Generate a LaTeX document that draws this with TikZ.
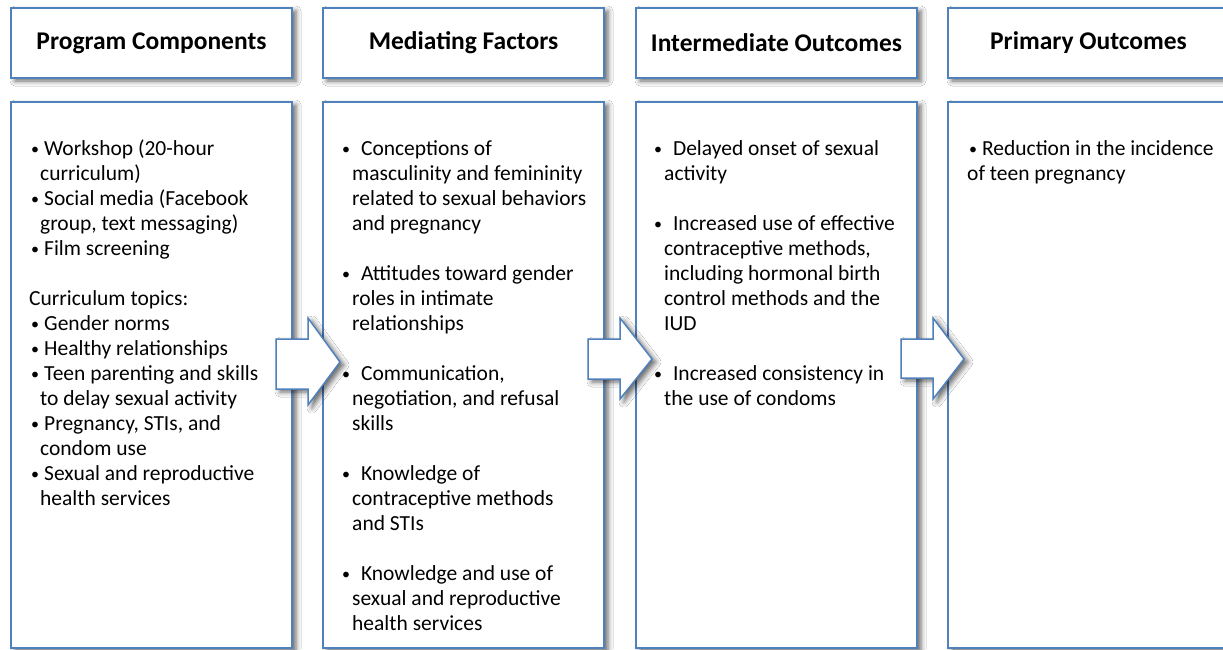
\documentclass[tikz,border=0pt]{standalone}
\usepackage{fontspec}
\setmainfont{Carlito}
\usetikzlibrary{shadows.blur}
\definecolor{boxblue}{HTML}{4F81BD}
\newcommand\bu[1][13pt]{\makebox[#1][l]{\raisebox{1.2pt}{\fontsize{16}{16}\selectfont\textbullet}}}
\tikzset{
  box/.style={draw=boxblue, line width=1.5pt, fill=white, inner sep=0pt,
    blur shadow={shadow xshift=4pt, shadow yshift=-3pt, shadow blur radius=5pt, shadow opacity=60}},
  headbox/.style={box, minimum width=281pt, minimum height=70pt, font=\fontsize{25.5}{30}\selectfont\bfseries},
  contentbox/.style={box, minimum width=281pt, minimum height=546pt},
  body/.style={anchor=north west, inner sep=0pt, align=left, font=\fontsize{21.5}{25}\selectfont},
  blockarrow/.style={draw=boxblue, line width=1.5pt, fill=white, line join=miter,
    blur shadow={shadow xshift=4pt, shadow yshift=-3pt, shadow blur radius=5pt, shadow opacity=60}}
}
\begin{document}
\begin{tikzpicture}[x=1pt,y=-1pt]
\useasboundingbox[fill=white] (0,0) rectangle (1223,649);
% headers
\node[headbox] (h1) at (151.5,43) {Program Components};
\node[headbox] (h2) at (463.5,43) {Mediating Factors};
\node[headbox] (h3) at (776.5,43) {Intermediate Outcomes};
\node[headbox] (h4) at (1088.5,43) {Primary Outcomes};
% content boxes
\node[contentbox] (c1) at (151.5,375) {};
\node[contentbox] (c2) at (463.5,375) {};
\node[contentbox] (c3) at (776.5,375) {};
\node[contentbox] (c4) at (1088.5,375) {};
% texts
\node[body] (t1) at (31,137.5) {\strut\bu Workshop (20-hour\\
\hspace*{9pt}curriculum)\\
\bu Social media (Facebook\\
\hspace*{9pt}group, text messaging)\\
\bu Film screening\\[25pt]
\hspace*{-2pt}Curriculum topics:\\
\bu Gender norms\\
\bu Healthy relationships\\
\bu Teen parenting and skills\\
\hspace*{9pt}to delay sexual activity\\
\bu Pregnancy, STIs, and\\
\hspace*{9pt}condom use\\
\bu Sexual and reproductive\\
\hspace*{9pt}health services};
\node[body] (t2) at (342,137.5) {\strut\bu[14pt] Conceptions of\\
\hspace*{10pt}masculinity and femininity\\
\hspace*{10pt}related to sexual behaviors\\
\hspace*{10pt}and pregnancy\\[25pt]
\bu[14pt] Attitudes toward gender\\
\hspace*{10pt}roles in intimate\\
\hspace*{10pt}relationships\\[25pt]
\bu[14pt] Communication,\\
\hspace*{10pt}negotiation, and refusal\\
\hspace*{10pt}skills\\[25pt]
\bu[14pt] Knowledge of\\
\hspace*{10pt}contraceptive methods\\
\hspace*{10pt}and STIs\\[25pt]
\bu[14pt] Knowledge and use of\\
\hspace*{10pt}sexual and reproductive\\
\hspace*{10pt}health services};
\node[body] (t3) at (654,137.5) {\strut\bu[14pt] Delayed onset of sexual\\
\hspace*{10pt}activity\\[25pt]
\bu[14pt] Increased use of effective\\
\hspace*{10pt}contraceptive methods,\\
\hspace*{10pt}including hormonal birth\\
\hspace*{10pt}control methods and the\\
\hspace*{10pt}IUD\\[25pt]
\bu[14pt] Increased consistency in\\
\hspace*{10pt}the use of condoms};
\node[body] (t4) at (969,137.5) {\strut\bu[8pt] Reduction in the incidence\\
\hspace*{-2pt}of teen pregnancy};
% block arrows
\draw[blockarrow] (276,339) -- (308,339) -- (308,318) -- (340,362) -- (308,405) -- (308,389) -- (276,389) -- cycle;
\draw[blockarrow] (588,339) -- (620,339) -- (620,318) -- (652,359) -- (620,399) -- (620,379) -- (588,379) -- cycle;
\draw[blockarrow] (901,339) -- (933,339) -- (933,318) -- (964,359) -- (933,399) -- (933,378) -- (901,378) -- cycle;
\end{tikzpicture}
\end{document}
